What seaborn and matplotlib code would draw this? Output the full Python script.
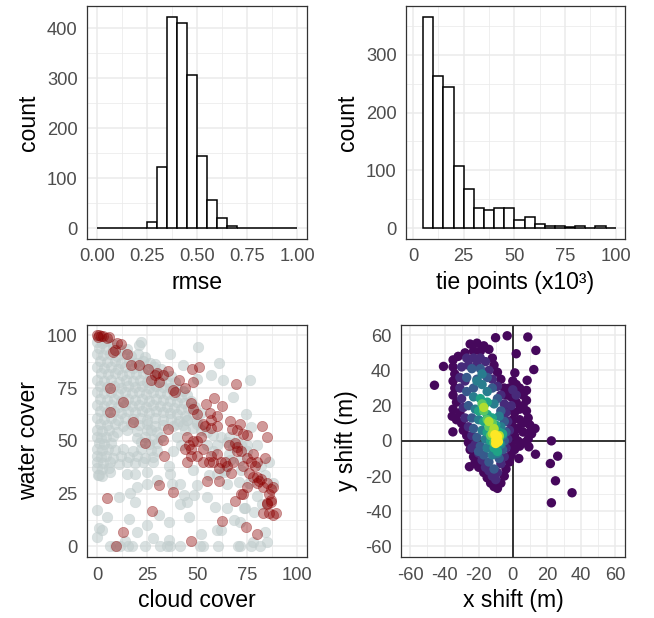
import matplotlib
matplotlib.use("Agg")
import numpy as np
import pandas as pd
import matplotlib.pyplot as plt
import seaborn as sns

### data

# rmse histogram (bin edges every 0.05, counts per bin)
rmse_edges = [0.00, 0.05, 0.10, 0.15, 0.20, 0.25, 0.30, 0.35, 0.40, 0.45, 0.50,
              0.55, 0.60, 0.65, 0.70, 0.75, 0.80, 0.85, 0.90, 0.95, 1.00]
rmse_counts = [0, 0, 0, 0, 0, 13, 123, 423, 410, 307, 145, 57, 21, 4, 1, 1, 0, 0, 0, 0]

# tie points histogram (x10^3)
tie_edges = [5, 10, 15, 20, 25, 30, 35, 40, 45, 50, 55, 60, 65, 70, 75, 80, 85, 90, 95, 100]
tie_counts = [366, 263, 244, 108, 67, 34, 31, 34, 34, 14, 20, 7, 4, 3, 2, 4, 1, 3, 1]

# cloud cover vs water cover, grey = all scenes
grey_pts = [
    (0, 97), (2.5, 96.5), (5, 97.5), (8, 96),
    (1, 94), (4.5, 93.5), (8, 94), (11.5, 93), (15, 93.5), (21, 95.5),
    (0, 91), (3, 90.5), (6.5, 91), (10, 90), (13.5, 91), (17, 90), (20.5, 91), (24, 89.5),
    (1.5, 88), (5, 87.5), (9, 88), (12, 87), (16, 88), (19.5, 87), (23, 88), (26.5, 87), (29, 86.5),
    (0, 85), (3.5, 84.5), (7, 85), (10.5, 84), (14, 85), (18, 84.5), (21.5, 85), (25, 84), (28.5, 85), (32, 84),
    (2, 82), (5.5, 81.5), (9, 82), (12.5, 81), (16, 82), (19.5, 81.5), (23, 82), (26.5, 81), (30, 82),
    (33.5, 81), (37, 80.5),
    (0, 79), (3.5, 78.5), (7, 79), (11, 78), (14.5, 79), (18, 78.5), (21.5, 79), (25, 78), (28.5, 79),
    (32, 78.5), (35.5, 78), (39, 78),
    (1.5, 76), (5, 75.5), (8.5, 76), (12, 75), (15.5, 76), (19, 75.5), (22.5, 76), (26, 75), (29.5, 76),
    (33, 75.5), (36.5, 75), (40, 74.5), (43, 73.5),
    (0, 73), (3.5, 72.5), (7, 73), (10.5, 72), (14, 73), (17.5, 72.5), (21, 73), (24.5, 72), (28, 73),
    (31.5, 72.5), (35, 72), (38.5, 71.5), (42, 71), (45, 71.5),
    (1.5, 70), (5, 69.5), (8.5, 70), (12, 69), (15.5, 70), (19, 69.5), (22.5, 70), (26, 69), (29.5, 70),
    (33, 69.5), (36.5, 69), (40, 68.5), (43.5, 68), (47, 69),
    (0, 67), (3.5, 66.5), (7, 67), (10.5, 66), (14, 67), (17.5, 66.5), (21, 67), (24.5, 66), (28, 67),
    (31.5, 66.5), (35, 66), (38.5, 65.5), (42, 65), (45.5, 65.5), (49, 66),
    (1.5, 64), (5, 63.5), (8.5, 64), (12, 63), (15.5, 64), (19, 63.5), (22.5, 64), (26, 63), (29.5, 64),
    (33, 63.5), (36.5, 63), (40, 62.5), (44, 62), (48, 62.5), (52, 63),
    (0, 61), (3.5, 60.5), (7, 61), (10.5, 60), (14, 61), (18, 60.5), (21.5, 61), (25, 60), (29, 61),
    (33, 60), (37, 60.5), (41, 59.5), (45, 60), (50, 59),
    (1.5, 58), (5, 57.5), (9, 58), (13, 57), (17, 58), (21, 57.5), (25, 58), (29, 57), (33, 57.5),
    (38, 57), (43, 57.5),
    (0, 55), (2.5, 54.5), (6, 55), (10, 54), (15, 55), (20, 54.5), (25, 55), (30, 54),
    (0, 52), (2, 51.5), (4.5, 52), (8, 52.5), (20, 51.5), (24, 52), (28, 51),
    (1, 49), (3.5, 48.5), (7, 49), (22, 49.5), (26, 48.5), (30, 49),
    (0, 46), (2.5, 45.5), (5.5, 46), (9, 45.5), (13, 46), (18, 45), (22, 46), (27, 45.5),
    (0, 43), (2, 42.5), (4.5, 43), (8, 42), (12, 43), (16, 42.5), (20, 43), (24, 42), (28, 42.5),
    (0, 40), (3, 39.5), (6.5, 40), (11, 39), (15, 40), (19, 39.5), (23, 40),
    (0, 37), (2.5, 36.5), (6, 37), (0.5, 34), (2.5, 33.5),
    # scattered scenes
    (22, 96.8), (50.4, 94.5), (36.3, 91.3), (60.9, 86.9), (42.9, 86.1), (49.6, 79.5), (76.2, 78.7),
    (62.6, 78.7), (67.9, 70.8), (56.6, 81), (74.5, 62.9), (77, 56.6), (57.9, 52.7), (64.6, 49.5),
    (38, 45), (42, 48), (40, 52), (44, 55), (30, 45), (36, 38), (28, 40), (32, 52), (27, 55), (40, 58),
    (45, 60), (50, 58), (52, 55), (48, 56), (55, 54), (62, 52), (66, 52), (70, 50), (60, 48), (75, 48),
    (72, 36), (64, 36), (56, 34), (48, 36), (68, 47), (72, 48), (75, 45), (66, 44), (55, 48), (58, 45),
    (6.3, 0), (8.8, 0), (11.3, 0), (15.5, 0), (17.1, 0), (23.8, 0), (31.3, 0), (34.6, 0), (36.3, 0),
    (41.3, 0), (51.2, 0), (52.9, 0), (60.4, 0), (70.4, 0), (71.2, 0), (77, 0), (81.2, 0),
    (-0.1, 17.2), (0.7, 8.5), (2.3, 7.7), (4.8, 14), (10.7, 23.5), (16.5, 25.4), (19, 21.1), (15.7, 13.2),
    (19.8, 6.9), (24.8, 10.1), (30.6, 14.8), (35.6, 11.7), (41.4, 20.3), (44.8, 21.1), (43.1, 24.3),
    (48.1, 24.3), (54.8, 23.5), (58.9, 18.8), (59.8, 7.7), (64.7, 18), (68.1, 12.4), (71.4, 11.7),
    (73.1, 18), (78.1, 16.4), (82.2, 20.3), (83.9, 7), (19.8, 28.2), (24.8, 29.8), (37.3, 29.8),
    (41.4, 29.8), (49.8, 29), (36.5, 34.5), (29.8, 31.4), (19, 34.5), (14.8, 34.5), (24.8, 35.3),
    (6.5, 35.3), (0.7, 33.7), (59.8, 34.5), (63.1, 35.3), (64.7, 29.8), (70.6, 30.6), (71.4, 40.8),
    (66.4, 40.8), (0, 4.5), (14, 2.5), (36, 3), (28, 4), (46, 14), (80, 48), (86, 40), (82, 38),
    (88, 30), (84, 34), (76, 30), (80, 24), (74, 18), (62, 8), (52, 6), (85, 2), (78, 2),
]

# red = highlighted scenes
red_pts = [
    (0, 100), (1, 100), (2, 99.5), (0.5, 99), (3, 99.5), (6, 99), (5, 98.5),
    (10, 96.5), (12, 96), (9, 93), (8, 92), (15, 91),
    (17, 86), (21, 86), (25.5, 84), (29, 81), (30, 82), (33, 81), (35.5, 83), (31, 78),
    (38, 74), (39, 73), (41, 79), (44, 75), (47.5, 84), (50.7, 85), (48, 78), (69.5, 77),
    (47, 68), (49.6, 62.6), (48, 65), (54.5, 67.3), (58.3, 70.5), (56.3, 63.4), (53, 57.9), (57, 60),
    (62.1, 66.5), (60, 62), (60, 57), (57, 56), (54, 57), (66.3, 59.4), (71.3, 57.9), (72.9, 53.1),
    (67.1, 55.5), (70, 55), (75, 53), (82.4, 57.1), (84.6, 51.6), (84, 42),
    (45, 52), (46, 48), (48, 50), (47, 46), (44, 46), (45, 40), (47, 43), (50, 50), (52, 52), (50, 43),
    (53, 40), (53, 46), (56, 40), (57, 43), (58, 40), (60, 44), (62, 40), (61, 37), (64, 40),
    (65, 38), (67, 35), (68, 40), (70, 45), (70, 47), (72, 45), (73, 38), (75, 42), (77, 40), (78, 44),
    (79, 38), (80, 40), (76, 35), (66, 48), (69, 49),
    (78, 33), (80, 33), (81, 31), (82, 32), (80, 30), (83, 28), (85, 30), (87, 27), (86, 25), (88, 28),
    (85, 20), (87, 21), (84.6, 20.6), (88, 15), (89.4, 16), (87, 22), (82.6, 15.6), (85.6, 16),
    (75, 28), (72, 25), (68.9, 21.6), (73, 25),
    (62.3, 12), (74.4, 9), (79.7, 6), (47, 2.6), (9.3, 0), (12.7, 7), (27.3, 17), (31, 29), (4.8, 23),
    (38, 25.6), (17.6, 59), (6.3, 63.7), (24, 49), (33.3, 42.9), (33, 50.3), (35.4, 55.8),
    (13, 68.5), (6.3, 74.8), (27, 79), (54.8, 31), (61, 31),
]

# x / y shift, grouped by point density (0 = sparse, 1 = densest)
shift_sparse = [
    (-25, 55), (-21, 55.5), (-17, 54), (-14, 52), (-19, 51), (-23, 51), (-28, 50), (-32, 48), (-35, 46),
    (-12, 47), (-11, 43), (-35, 42), (-9, 39), (-34, 38), (-7, 35), (-35, 34), (-5, 30), (-34, 30),
    (-35, 26), (-4, 26), (-33, 22), (-35, 18), (-31, 16), (-33, 12), (-30, 10), (-29, 6), (-27, 3),
    (-26, -1), (-25, -5), (-23, -9), (-22, -12), (-20, -15), (-17, -18), (-15, -21), (-13, -24),
    (-11, -26), (-9, -27), (-7, -24), (-5, -20), (-4, -16), (-2, -12), (-1, -8), (1, -5), (4, -3),
    (7, -1), (9, 1), (11, 4), (13, 7), (10, 9), (9, 13), (8, 17), (6, 20), (8, 23), (6, 26), (4, 30),
    (2, 32), (0, 34), (-2, 30), (-1, 25), (2, 22), (4, 18), (1, 16), (4, 12), (0, 12), (6, 10), (3, 7),
    (6, 5), (1, 3), (3, 0), (-1, -2), (0, 8), (-2, 19),
    (-45.9, 31.6), (-40.6, 42.3), (-35.5, 14), (-35.1, 5.1), (-25.4, -14.7), (-10.1, 58.6),
    (-3.3, 59.7), (8.8, 59), (2, 49.5), (13.5, 51.4), (12.3, 40.5), (1.2, 38.6), (8.4, 34.4),
    (8, 28.7), (22.6, 0), (26.3, -8.7), (22, -12.9), (25, -22.7), (34.7, -29.5), (22.6, -35.2),
    (13.3, -7.6), (9.4, -3.4), (3.5, -10), (10.3, 5.1),
]
shift_low = [
    (-27, 47), (-23, 47), (-19, 47), (-16, 45), (-30, 42), (-26, 43), (-14, 40), (-31, 36), (-12, 35),
    (-31, 30), (-9, 31), (-30, 24), (-7, 26), (-29, 19), (-5, 21), (-28, 13), (-4, 16), (-26, 8),
    (-3, 11), (-24, 3), (-2, 6), (-22, -2), (-3, 1), (-20, -7), (-4, -4), (-18, -11), (-5, -9),
    (-16, -15), (-7, -13), (-12, -20), (-9, -18), (-14, -17), (-21, 43), (-28, 34), (-1, 20), (2, 26),
    (0, 29), (-6, 16), (-24, -4), (-10, -22),
]
shift_mid = [
    (-24, 41), (-19, 41), (-27, 36), (-15, 36), (-27, 28), (-12, 30), (-26, 20), (-9, 24), (-24, 13),
    (-7, 17), (-23, 7), (-5, 11), (-21, 2), (-4, 5), (-19, -3), (-5, 0), (-17, -8), (-6, -5),
    (-14, -12), (-8, -10), (-11, -16), (-21, 35), (-23, 30), (-20, -6),
]
shift_high = [
    (-21, 34), (-18, 32), (-23, 25), (-15, 28), (-22, 18), (-11, 21), (-20, 12), (-8, 14), (-18, 6),
    (-7, 8), (-16, 1), (-6, 3), (-15, -4), (-7, -2), (-12, -8), (-9, -7), (-18, 38),
]
shift_vhigh = [
    (-19, 24), (-17, 20), (-20, 17), (-15, 22), (-15, 15), (-12, 13), (-17, 11), (-13, 8), (-10, 9),
    (-15, 5), (-8, 5), (-13, 0), (-8, -1), (-11, -4), (-9, -6), (-6, 4),
]
shift_top = [(-18, 21), (-17, 17), (-15, 12), (-12, 10), (-14, 8), (-11, 6), (-13, 3), (-8, 2), (-11, -1)]
shift_peak = [(-17, 19), (-14, 11), (-11, 7), (-12, 4), (-8, 3)]
shift_core = [(-10.5, 3.5), (-9, 2.5), (-10, 0.5), (-8.5, -0.5), (-10, -1.5)]
shift_levels = [0.02, 0.12, 0.28, 0.42, 0.58, 0.74, 0.88, 1.0]

### tidy frames
grey_df = pd.DataFrame(grey_pts, columns=["cloud", "water"])
red_df = pd.DataFrame(red_pts, columns=["cloud", "water"])
frames = []
for pts, lvl in zip([shift_sparse, shift_low, shift_mid, shift_high, shift_vhigh,
                     shift_top, shift_peak, shift_core], shift_levels):
    d = pd.DataFrame(pts, columns=["dx", "dy"])
    d["density"] = lvl
    frames.append(d)
shift_df = pd.concat(frames, ignore_index=True).sort_values("density")

### style
sns.set_style("white")
plt.rcParams["font.family"] = ["Liberation Sans", "DejaVu Sans"]
plt.rcParams["axes.unicode_minus"] = False

W, H = 654, 618
fig = plt.figure(figsize=(W / 100, H / 100), dpi=100)


def make_ax(left, top, right, bottom):
    return fig.add_axes([left / W, 1 - bottom / H, (right - left) / W, (bottom - top) / H])


def style(ax, xmaj, xmin, ymaj, ymin, xlab, ylab, xfmt=None):
    ax.set_xticks(xmaj)
    ax.set_xticks(xmin, minor=True)
    ax.set_yticks(ymaj)
    ax.set_yticks(ymin, minor=True)
    if xfmt is not None:
        ax.set_xticklabels(xfmt)
    ax.grid(which="major", color="#ebebeb", linewidth=1.1)
    ax.grid(which="minor", color="#ebebeb", linewidth=0.55)
    ax.set_axisbelow(True)
    for s in ax.spines.values():
        s.set_color("#333333")
        s.set_linewidth(0.9)
    ax.tick_params(which="major", length=4.5, width=0.9, color="#333333",
                   labelsize=13.2, labelcolor="#4d4d4d", pad=2.5)
    ax.tick_params(which="minor", length=0)
    ax.set_xlabel(xlab, fontsize=16.6, color="black", labelpad=4)
    ax.set_ylabel(ylab, fontsize=16.6, color="black", labelpad=5)


# rmse
ax1 = make_ax(87.3, 6, 307.3, 238.7)
sns.histplot(x=[(a + b) / 2 for a, b in zip(rmse_edges[:-1], rmse_edges[1:])], weights=rmse_counts,
             bins=rmse_edges, color="white", edgecolor="black", linewidth=1.1, alpha=1, ax=ax1)
ax1.set_xlim(-0.05, 1.05)
ax1.set_ylim(-21, 444)
style(ax1, [0, 0.25, 0.5, 0.75, 1.0], [0.125, 0.375, 0.625, 0.875],
      [0, 100, 200, 300, 400], [50, 150, 250, 350], "rmse", "count",
      xfmt=["0.00", "0.25", "0.50", "0.75", "1.00"])

# tie points
ax2 = make_ax(406.3, 6, 624.7, 238.7)
sns.histplot(x=[(a + b) / 2 for a, b in zip(tie_edges[:-1], tie_edges[1:])], weights=tie_counts,
             bins=tie_edges, color="white", edgecolor="black", linewidth=1.1, alpha=1, ax=ax2)
ax2.set_xlim(-3.3, 104.4)
ax2.set_ylim(-18.3, 384.5)
style(ax2, [0, 25, 50, 75, 100], [12.5, 37.5, 62.5, 87.5],
      [0, 100, 200, 300], [50, 150, 250, 350], "tie points (x10³)", "count")

# cloud vs water
ax3 = make_ax(87.3, 324.7, 307.3, 557)
sns.scatterplot(data=grey_df, x="cloud", y="water", color="#c1cdcd", alpha=0.6, s=58,
                edgecolor="#c1cdcd", linewidth=0.4, ax=ax3)
sns.scatterplot(data=red_df, x="cloud", y="water", color="#8b0000", alpha=0.4, s=55,
                edgecolor="#8b0000", linewidth=0.5, ax=ax3)
ax3.set_xlim(-5, 105)
ax3.set_ylim(-5, 105)
style(ax3, [0, 25, 50, 75, 100], [12.5, 37.5, 62.5, 87.5],
      [0, 25, 50, 75, 100], [12.5, 37.5, 62.5, 87.5], "cloud cover", "water cover")

# x / y shift
ax4 = make_ax(401, 324.7, 625.3, 557)
ax4.axhline(0, color="black", linewidth=1.1, zorder=0.9)
ax4.axvline(0, color="black", linewidth=1.1, zorder=0.9)
sns.scatterplot(data=shift_df, x="dx", y="dy", hue="density", palette="viridis", hue_norm=(0, 1),
                s=46, linewidth=0, legend=False, ax=ax4)
ax4.set_xlim(-65.5, 65.9)
ax4.set_ylim(-66, 66)
style(ax4, [-60, -40, -20, 0, 20, 40, 60], [-50, -30, -10, 10, 30, 50],
      [-60, -40, -20, 0, 20, 40, 60], [-50, -30, -10, 10, 30, 50], "x shift (m)", "y shift (m)")

fig.savefig("out.png", dpi=100)
